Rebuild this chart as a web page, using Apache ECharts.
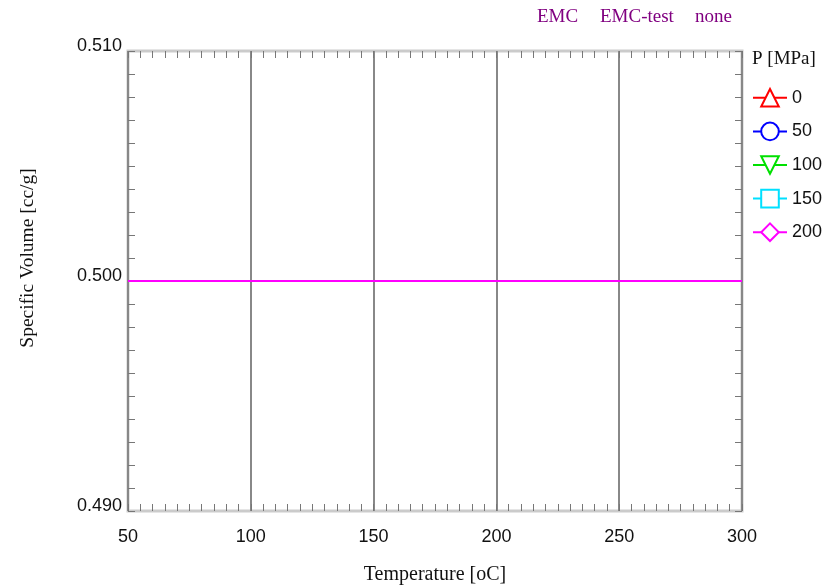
<!DOCTYPE html>
<html>
<head>
<meta charset="utf-8">
<script src="https://cdn.jsdelivr.net/npm/echarts@6/dist/echarts.min.js"></script>
<style>html,body{margin:0;padding:0;background:#fff;}#c{width:832px;height:585px;}</style>
</head>
<body>
<div id="c"></div>
<script>
// Data
const temperature = [50, 100, 150, 200, 250, 300];
const seriesNames = ['0', '50', '100', '150', '200'];
const v0   = [0.5, 0.5, 0.5, 0.5, 0.5, 0.5];
const v50  = [0.5, 0.5, 0.5, 0.5, 0.5, 0.5];
const v100 = [0.5, 0.5, 0.5, 0.5, 0.5, 0.5];
const v150 = [0.5, 0.5, 0.5, 0.5, 0.5, 0.5];
const v200 = [0.5, 0.5, 0.5, 0.5, 0.5, 0.5];
const xTicks = [50, 100, 150, 200, 250, 300];
const yTicks = ['0.490', '0.500', '0.510'];

const seriesValues = [v0, v50, v100, v150, v200];
const colors = ['#ff0000', '#0000ff', '#00e000', '#00e0ff', '#ff00ff'];
const symbols = ['emptyTriangle', 'emptyCircle', 'emptyTriangle', 'emptyRect', 'emptyDiamond'];
const rotates = [0, 0, 180, 0, 0];

const chart = echarts.init(document.getElementById('c'));
const tickFont = {fontFamily: 'Liberation Sans', fontSize: 18, color: '#111'};
const serif = 'Liberation Serif';

const tickCommon = {
  axisTick: {show: true, inside: true, length: 7, lineStyle: {color: '#777', width: 1}},
  minorTick: {show: true, splitNumber: 10, length: 7, lineStyle: {color: '#777', width: 1}}
};

const option = {
  backgroundColor: '#fff',
  animation: false,
  grid: {left: 128, right: 90, top: 51, bottom: 74, outerBoundsMode: 'none', containLabel: false,
         show: true, borderColor: '#cbcbcb', borderWidth: 3, backgroundColor: 'transparent'},
  xAxis: [
    Object.assign({
      type: 'value', min: 50, max: 300, interval: 50, position: 'bottom',
      axisLine: {show: false},
      axisLabel: Object.assign({margin: 17, formatter: v => xTicks.includes(v) ? String(v) : ''}, tickFont),
      splitLine: {show: true, lineStyle: {color: '#888', width: 2}},
      name: 'Temperature [oC]', nameLocation: 'middle', nameGap: 54,
      nameTextStyle: {fontFamily: serif, fontSize: 20, color: '#111'}
    }, tickCommon),
    Object.assign({
      type: 'value', min: 50, max: 300, interval: 50, position: 'top',
      axisLine: {show: false}, axisLabel: {show: false}, splitLine: {show: false}
    }, tickCommon)
  ],
  yAxis: [
    Object.assign({
      type: 'value', min: 0.49, max: 0.51, interval: 0.01, position: 'left',
      axisLine: {show: false},
      axisLabel: Object.assign({margin: 6, verticalAlign: 'bottom', lineHeight: 9,
        formatter: v => yTicks[Math.round((v - 0.49) / 0.01)] || ''}, tickFont),
      splitLine: {show: false}
    }, tickCommon),
    Object.assign({
      type: 'value', min: 0.49, max: 0.51, interval: 0.01, position: 'right',
      axisLine: {show: false}, axisLabel: {show: false}, splitLine: {show: false}
    }, tickCommon)
  ],
  legend: {
    orient: 'vertical', left: 747, top: 83, itemWidth: 34, itemHeight: 22, itemGap: 14,
    textStyle: {fontFamily: 'Liberation Sans', fontSize: 18, color: '#111'},
    data: seriesNames
  },
  graphic: [
    {type: 'text', left: 752, top: 50, style: {text: 'P [MPa]', font: '19px "Liberation Serif"', fill: '#111'}},
    {type: 'text', left: 537, top: 8, style: {text: 'EMC', font: '19px "Liberation Serif"', fill: '#800080'}},
    {type: 'text', left: 600, top: 8, style: {text: 'EMC-test', font: '19px "Liberation Serif"', fill: '#800080'}},
    {type: 'text', left: 695, top: 8, style: {text: 'none', font: '19px "Liberation Serif"', fill: '#800080'}},
    {type: 'text', x: 28, y: 258, rotation: Math.PI / 2,
     style: {text: 'Specific Volume [cc/g]', font: '19.5px "Liberation Serif"', fill: '#111', align: 'center', verticalAlign: 'middle'}}
  ],
  series: seriesNames.map((n, i) => ({
    name: n, type: 'line',
    data: temperature.map((t, k) => [t, seriesValues[i][k]]),
    symbol: symbols[i], symbolRotate: rotates[i], showSymbol: false,
    itemStyle: {color: colors[i]},
    lineStyle: {color: colors[i], width: 2}
  }))
};
chart.setOption(option);
</script>
</body>
</html>
